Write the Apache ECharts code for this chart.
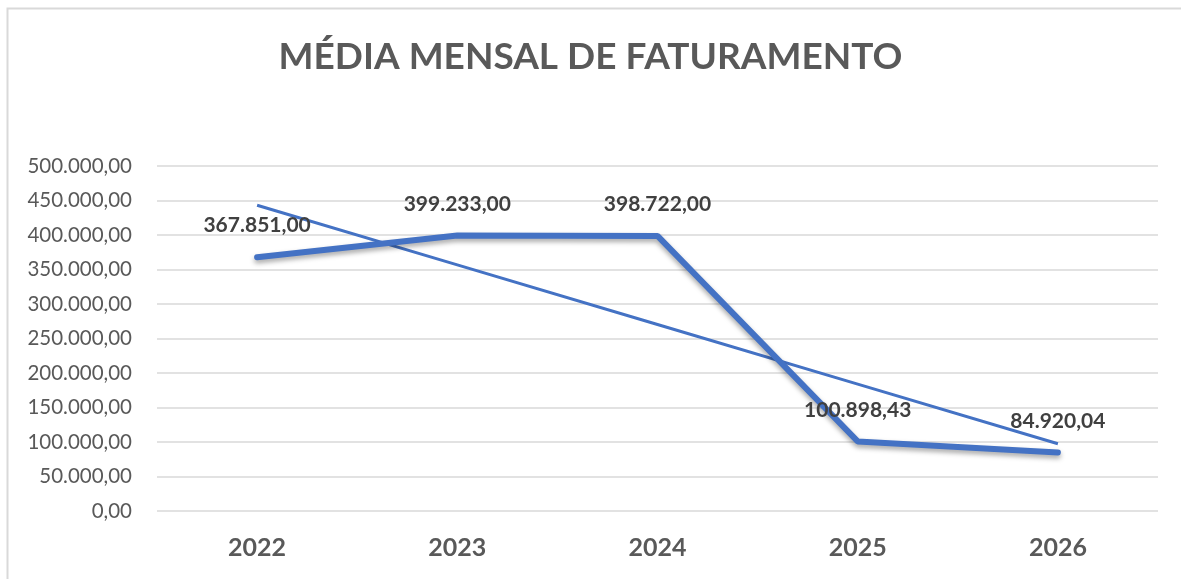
<!DOCTYPE html>
<html>
<head>
<meta charset="utf-8">
<script src="https://cdn.jsdelivr.net/npm/echarts@6/dist/echarts.min.js"></script>
<style>
  html, body { margin: 0; padding: 0; background: #fff; }
  #chart { width: 1181px; height: 579px; }
</style>
</head>
<body>
<div id="chart"></div>
<script>
const years = ['2022', '2023', '2024', '2025', '2026']
const monthlyAverage = [367851.00, 399233.00, 398722.00, 100898.43, 84920.04]
// linear trendline
const trendValues = [443164, 356745, 270325, 183905, 97486]

const fmt = (v) => {
  const parts = v.toFixed(2).split('.')
  return parts[0].replace(/\B(?=(\d{3})+(?!\d))/g, '.') + ',' + parts[1]
}

const chart = echarts.init(document.getElementById('chart'))

const option = {
  animation: false,
  textStyle: { fontFamily: 'Lato' },
  graphic: [
    {
      type: 'rect',
      shape: { x: 7.5, y: 8.5, width: 1200, height: 600 },
      style: { fill: 'none', stroke: '#d9d9d9', lineWidth: 2 },
      silent: true
    }
  ],
  title: {
    text: 'MÉDIA MENSAL DE FATURAMENTO',
    left: 'center',
    top: 34,
    textStyle: {
      color: '#595959',
      fontFamily: 'Lato',
      fontSize: 37,
      fontWeight: 'bold'
    }
  },
  grid: {
    left: 157,
    right: 23,
    top: 166,
    bottom: 68,
    containLabel: false
  },
  xAxis: {
    type: 'category',
    data: years,
    boundaryGap: true,
    axisLine: { show: false },
    axisTick: { show: false },
    axisLabel: {
      color: '#595959',
      fontSize: 25,
      fontWeight: 'bold',
      margin: 24
    }
  },
  yAxis: {
    type: 'value',
    min: 0,
    max: 500000,
    interval: 50000,
    axisLine: { show: false },
    axisTick: { show: false },
    splitLine: { lineStyle: { color: '#d9d9d9', width: 1.5 } },
    axisLabel: {
      color: '#595959',
      fontSize: 20.5,
      margin: 25,
      formatter: (v) => fmt(v)
    }
  },
  series: [
    {
      name: 'Tendência',
      type: 'line',
      data: trendValues,
      symbol: 'none',
      z: 2,
      lineStyle: { color: '#4472c4', width: 3 }
    },
    {
      name: 'Média mensal',
      type: 'line',
      data: monthlyAverage,
      symbol: 'circle',
      symbolSize: 2,
      showSymbol: true,
      itemStyle: { color: '#4472c4' },
      z: 3,
      lineStyle: {
        color: '#4472c4',
        width: 6,
        cap: 'round',
        shadowColor: 'rgba(0,0,0,0.35)',
        shadowBlur: 5,
        shadowOffsetY: 3
      },
      label: {
        show: true,
        position: 'top',
        distance: 20,
        color: '#404040',
        fontSize: 21,
        fontWeight: 'bold',
        formatter: (p) => fmt(p.value)
      }
    }
  ]
}

chart.setOption(option)
</script>
</body>
</html>
